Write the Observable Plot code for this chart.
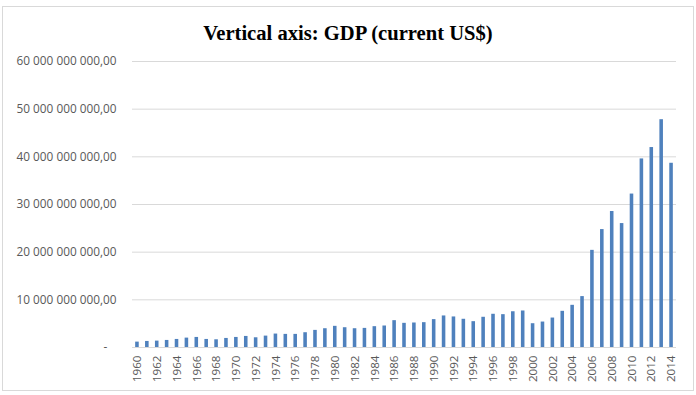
<!DOCTYPE html>
<html>
<head>
<meta charset="utf-8">
<script src="https://cdn.jsdelivr.net/npm/d3@7"></script>
<script src="https://cdn.jsdelivr.net/npm/@observablehq/plot@0.6"></script>
<style>
  html, body { margin: 0; padding: 0; background: #fff; }
  #wrap { position: relative; width: 696px; height: 395px; overflow: hidden; }
  #frame { position: absolute; left: 2px; top: 6px; width: 690px; height: 383px; border: 1px solid #d9d9d9; box-sizing: content-box; }
  #title { position: absolute; left: 0; top: 23px; width: 696px; text-align: center;
           font-family: "Liberation Serif", "Times New Roman", serif; font-weight: bold;
           font-size: 20.6px; line-height: 1; color: #000; }
  #chart { position: absolute; left: 0; top: 0; }
</style>
</head>
<body>
<div id="wrap">
  <div id="frame"></div>
  <div id="chart"></div>
  <div id="title">Vertical axis: GDP (current US$)</div>
</div>
<script>
// Years shown on the category axis
const years = [
  "1960","1961","1962","1963","1964","1965","1966","1967","1968","1969",
  "1970","1971","1972","1973","1974","1975","1976","1977","1978","1979",
  "1980","1981","1982","1983","1984","1985","1986","1987","1988","1989",
  "1990","1991","1992","1993","1994","1995","1996","1997","1998","1999",
  "2000","2001","2002","2003","2004","2005","2006","2007","2008","2009",
  "2010","2011","2012","2013","2014"
];

// Labelled years (every other one)
const yearLabels = [
  "1960","1962","1964","1966","1968","1970","1972","1974","1976","1978",
  "1980","1982","1984","1986","1988","1990","1992","1994","1996","1998",
  "2000","2002","2004","2006","2008","2010","2012","2014"
];

// GDP, current US$, in billions
const gdpBillions = [
  1.13, 1.27, 1.34, 1.48, 1.69, 1.97, 2.11, 1.69, 1.62, 1.90,
  2.11, 2.32, 2.04, 2.39, 2.82, 2.75, 2.75, 3.10, 3.59, 3.94,
  4.44, 4.15, 3.94, 4.01, 4.37, 4.51, 5.63, 5.07, 5.14, 5.21,
  5.85, 6.62, 6.41, 5.92, 5.42, 6.34, 6.97, 6.89, 7.50, 7.66,
  4.99, 5.34, 6.18, 7.59, 8.85, 10.68, 20.38, 24.74, 28.53, 26.00,
  32.19, 39.56, 41.95, 47.79, 38.65
];

// Value axis ticks and their labels
const yTicks = [0, 10e9, 20e9, 30e9, 40e9, 50e9, 60e9];
const yTickLabels = [
  "-\u00a0\u00a0\u00a0",
  "10 000 000 000,00",
  "20 000 000 000,00",
  "30 000 000 000,00",
  "40 000 000 000,00",
  "50 000 000 000,00",
  "60 000 000 000,00"
];

const data = years.map((year, i) => ({ year, gdp: gdpBillions[i] * 1e9 }));

const labelFont = "'Open Sans', 'Liberation Sans', sans-serif";

const chart = Plot.plot({
  width: 696,
  height: 395,
  marginLeft: 132,
  marginRight: 20,
  marginTop: 61,
  marginBottom: 48,
  style: { fontFamily: labelFont, fontSize: "11.8px", color: "#595959", background: "transparent" },
  x: { type: "band", domain: years, paddingInner: 0.64, paddingOuter: 0.32, label: null },
  y: { domain: [0, 60e9], label: null },
  marks: [
    Plot.ruleY(yTicks.slice(1), { stroke: "#d9d9d9", strokeWidth: 1, strokeOpacity: 1 }),
    Plot.barY(data, { x: "year", y: "gdp", fill: "#4f81bd" }),
    Plot.ruleY([0], { stroke: "#d9d9d9", strokeWidth: 1, strokeOpacity: 1 }),
    Plot.axisY({
      ticks: yTicks,
      tickSize: 0,
      tickPadding: 16,
      tickFormat: (d) => yTickLabels[yTicks.indexOf(d)],
      label: null,
      fill: "#595959"
    }),
    Plot.axisX({
      ticks: yearLabels,
      tickSize: 0,
      tickPadding: 8,
      tickRotate: -90,
      label: null,
      fill: "#595959",
      fontSize: 11.6
    })
  ]
});

document.getElementById("chart").appendChild(chart);
</script>
</body>
</html>
